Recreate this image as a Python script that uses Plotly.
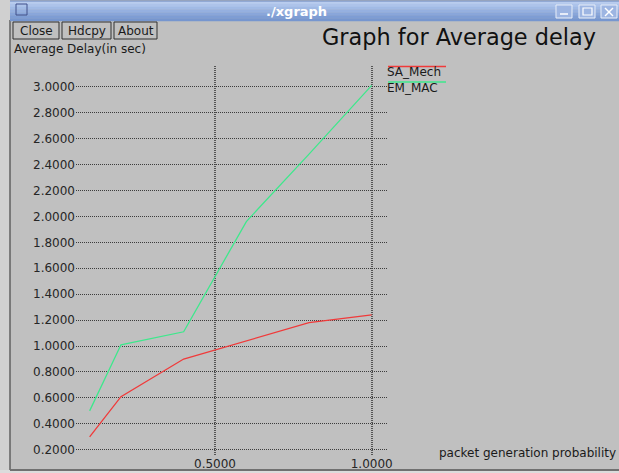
import plotly.graph_objects as go

# Average delay vs packet generation probability
prob = [0.1, 0.2, 0.4, 0.6, 0.8, 1.0]
sa_mech = [0.30, 0.61, 0.90, 1.04, 1.18, 1.24]
em_mac = [0.50, 1.01, 1.11, 1.96, 2.48, 3.01]

y_ticks = [0.2, 0.4, 0.6, 0.8, 1.0, 1.2, 1.4, 1.6, 1.8, 2.0, 2.2, 2.4, 2.6, 2.8, 3.0]
x_ticks = [0.5, 1.0]

W, H = 619, 473
L, R, T, B = 76, 387, 66, 455  # plot area in pixels


def px(x):
    return (x - L) / (R - L)


def py(y):
    return (B - y) / (B - T)


FONT = "DejaVu Sans"
BG = "#c0c0c0"
RED = "#f03a3a"
GREEN = "#3ee88c"

fig = go.Figure()
fig.add_trace(go.Scatter(x=prob, y=sa_mech, mode="lines", name="SA_Mech",
                         line=dict(color=RED, width=1.3), showlegend=False))
fig.add_trace(go.Scatter(x=prob, y=em_mac, mode="lines", name="EM_MAC",
                         line=dict(color=GREEN, width=1.3), showlegend=False))

shapes = []
annotations = []


def rect(x0, y0, x1, y1, fill=None, line=None, lw=1, layer="below"):
    shapes.append(dict(type="rect", xref="paper", yref="paper",
                       x0=px(x0), x1=px(x1), y0=py(y0), y1=py(y1),
                       fillcolor=fill or "rgba(0,0,0,0)",
                       line=dict(color=line or "rgba(0,0,0,0)", width=lw if line else 0),
                       layer=layer))


def seg(x0, y0, x1, y1, color, lw=1, layer="above"):
    shapes.append(dict(type="line", xref="paper", yref="paper",
                       x0=px(x0), x1=px(x1), y0=py(y0), y1=py(y1),
                       line=dict(color=color, width=lw), layer=layer))


def text(x, y, s, size=12, color="#1a1a1a", xanchor="left", bold=False, family=FONT):
    annotations.append(dict(xref="paper", yref="paper", x=px(x), y=py(y),
                            text=f"<b>{s}</b>" if bold else s, showarrow=False,
                            xanchor=xanchor, yanchor="middle", borderpad=0,
                            font=dict(family=family, size=size, color=color)))


# window frame
rect(0, 0, 10, 473, fill="#d0d0d0")
rect(0, 470, 619, 473, fill="#dcdcdc")
seg(10, 20, 10, 470, "#606060", 1.5, layer="below")
seg(10, 470, 619, 470, "#707070", 2, layer="below")

# title bar gradient
bar = ["#b9ccee", "#adc3ea", "#a1bae5", "#95b0e0", "#89a6da", "#7e9dd4", "#7696cf"]
step = 20 / len(bar)
for i, c in enumerate(bar):
    rect(10, 1 + i * step, 619, 1 + (i + 1) * step + 0.3, fill=c)
seg(10, 1, 619, 1, "#6a86bc", 1, layer="below")
text(296, 11, "./xgraph", size=13, color="#ffffff", xanchor="center", bold=True)
rect(16, 4, 27, 15, line="#40508a", lw=1, layer="above")
for bx in (556, 579, 601):
    rect(bx, 5, bx + 16, 18, fill="#9db5e2", line="#e8eef8", lw=1, layer="above")
seg(560, 14, 568, 14, "#ffffff", 1.5)
rect(583, 8, 592, 15, line="#ffffff", lw=1.2, layer="above")
seg(605, 8, 613, 16, "#ffffff", 1.5)
seg(605, 16, 613, 8, "#ffffff", 1.5)

# buttons
for x0, x1, label in ((13, 59, "Close"), (62, 111, "Hdcpy"), (114, 157, "About")):
    rect(x0, 22, x1, 39, line="#303030", lw=1, layer="above")
    text((x0 + x1) / 2, 31, label, size=12, xanchor="center")

# titles
text(321, 37, "Graph for Average delay", size=22.4, color="#111111")
text(13, 49, "Average Delay(in sec)", size=12)
text(438, 453, "packet generation probability", size=12)

# legend
seg(388, 66.5, 446, 66.5, RED, 1.3)
text(386, 72, "SA_Mech", size=12)
seg(388, 82, 446, 82, GREEN, 1.3)
text(386, 88, "EM_MAC", size=12)

axis_common = dict(showgrid=True, griddash="1px,1px",
                   zeroline=False, showline=False, ticks="", automargin=False,
                   tickformat=".4f",
                   tickfont=dict(family=FONT, size=12, color="#262626"))

fig.update_layout(
    width=W, height=H,
    margin=dict(l=L, r=W - R, t=T, b=H - B, pad=0, autoexpand=False),
    paper_bgcolor=BG, plot_bgcolor=BG,
    shapes=shapes, annotations=annotations,
    showlegend=False,
    xaxis=dict(range=[0.0565, 1.0488], tickvals=x_ticks,
               gridcolor="#555555", gridwidth=1.8, **axis_common),
    yaxis=dict(range=[0.1599, 3.1596], tickvals=y_ticks,
               gridcolor="#3c3c3c", gridwidth=1, **axis_common),
)

fig.write_html("out.html")
